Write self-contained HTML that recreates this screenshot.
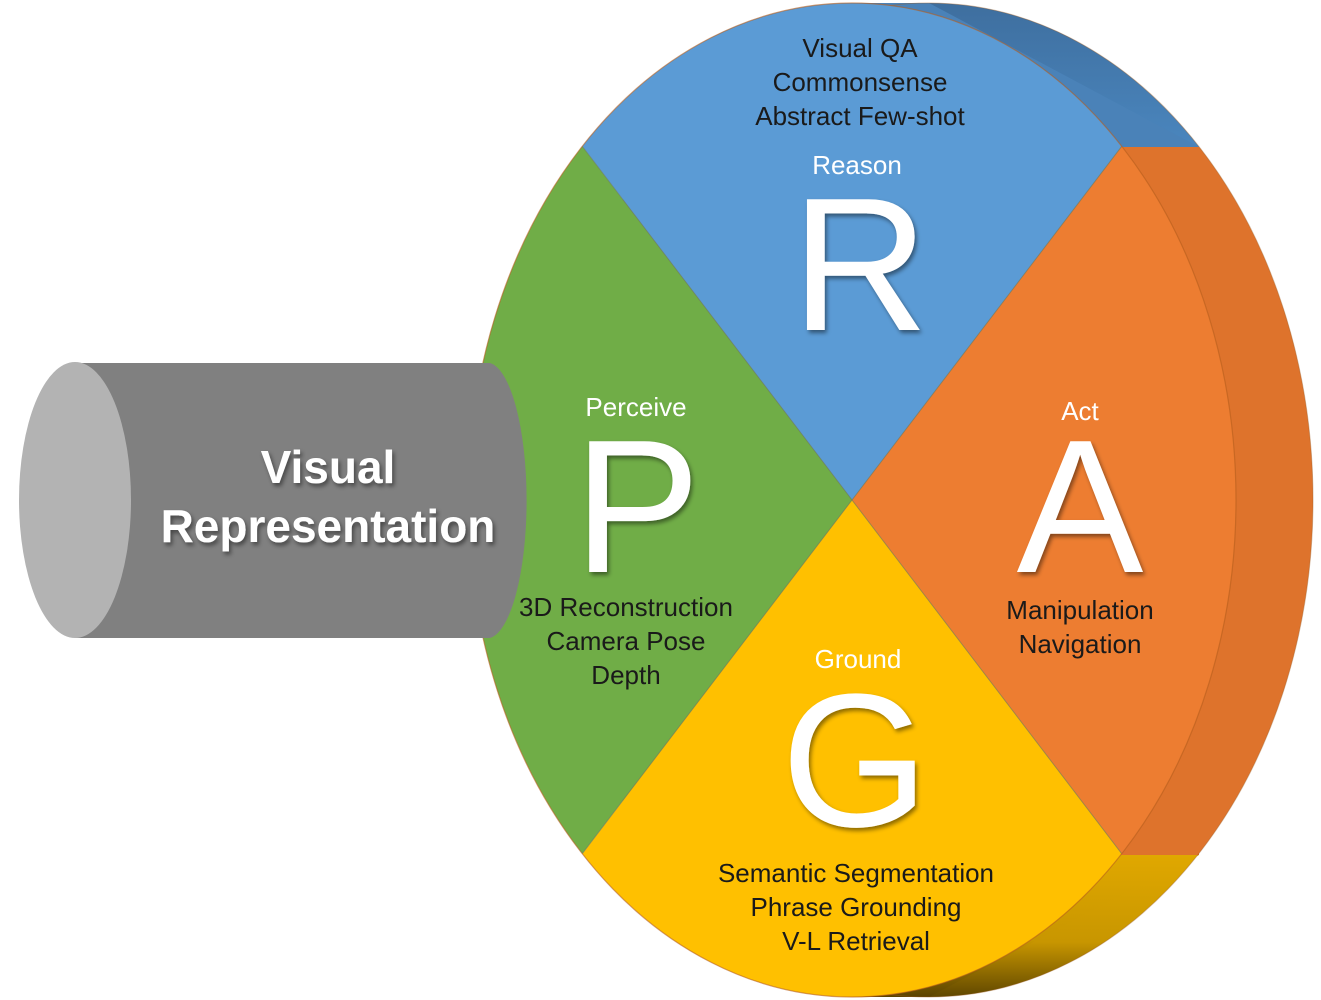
<!DOCTYPE html>
<html><head><meta charset="utf-8"><style>
html,body{margin:0;padding:0;background:#fff;width:1321px;height:1000px;overflow:hidden}
svg{display:block}
text{font-family:"Liberation Sans",sans-serif}
</style></head><body>
<svg width="1321" height="1000" viewBox="0 0 1321 1000" xmlns="http://www.w3.org/2000/svg">
<defs>
<clipPath id="front"><ellipse cx="852" cy="500" rx="384" ry="497"/></clipPath>
<clipPath id="back"><ellipse cx="929" cy="500" rx="384" ry="497"/></clipPath>
<linearGradient id="gold" x1="0" y1="0" x2="0" y2="1">
<stop offset="0" stop-color="#E0A800"/><stop offset="0.6" stop-color="#C89600"/><stop offset="1" stop-color="#5a4300"/></linearGradient>
<linearGradient id="bluS" x1="0" y1="0" x2="0" y2="1">
<stop offset="0" stop-color="#3E6E9E"/><stop offset="1" stop-color="#4A86BE"/></linearGradient>
<filter id="sh" x="-10%" y="-10%" width="130%" height="130%"><feDropShadow dx="2" dy="3" stdDeviation="2" flood-color="#000" flood-opacity="0.45"/></filter>
</defs>
<!-- side / back -->
<g clip-path="url(#back)">
<rect x="0" y="0" width="1321" height="147" fill="url(#bluS)"/>
<rect x="0" y="147" width="1321" height="708" fill="#DE732C"/>
<rect x="0" y="855" width="1321" height="145" fill="url(#gold)"/>
</g>
<rect x="852" y="0" width="77" height="1000" fill="none"/>
<polygon points="852,3 929,3 1199,147 1122,147" fill="#4A82B8"/>
<polygon points="1122,147 1199,147 1199,855 1122,855" fill="#DE732C"/>
<polygon points="1122,855 1199,855 929,997 852,997" fill="url(#gold)"/>
<ellipse cx="929" cy="500" rx="384" ry="497" fill="none" stroke="#9a5a20" stroke-width="1" opacity="0.4"/>
<!-- front wedges -->
<g clip-path="url(#front)">
<polygon points="852,500 444,-35 1260,-35" fill="#5B9BD5"/>
<polygon points="852,500 1260,-35 1260,1035" fill="#ED7D31"/>
<polygon points="852,500 1260,1035 444,1035" fill="#FFC000"/>
<polygon points="852,500 444,1035 444,-35" fill="#70AD47"/>
<line x1="444" y1="-35" x2="1260" y2="1035" stroke="#6b7a60" stroke-width="1" opacity="0.6"/>
<line x1="1260" y1="-35" x2="444" y2="1035" stroke="#6b7a60" stroke-width="1" opacity="0.6"/>
</g>
<ellipse cx="852" cy="500" rx="384" ry="497" fill="none" stroke="#b55d1d" stroke-width="1.2" opacity="0.6"/>
<!-- cylinder -->
<path d="M75,363 L490,363 A40,138 0 0 1 490,638 L75,638 Z" fill="#808080"/>
<ellipse cx="75" cy="500" rx="56" ry="138" fill="#B3B3B3"/>
<g fill="#fff" font-weight="bold" font-size="46" text-anchor="middle" filter="url(#sh)">
<text x="328" y="483">Visual</text>
<text x="328" y="542">Representation</text>
</g>
<!-- big letters -->
<g fill="#fff" font-size="190" text-anchor="middle" filter="url(#sh)">
<text x="860" y="330">R</text>
<text x="637" y="572">P</text>
<text x="1080" y="572">A</text>
<text x="855" y="826">G</text>
</g>
<g fill="#fff" font-size="26" text-anchor="middle">
<text x="857" y="174">Reason</text>
<text x="636" y="416">Perceive</text>
<text x="1080" y="420">Act</text>
<text x="858" y="668">Ground</text>
</g>
<g fill="#1a1a1a" font-size="26" text-anchor="middle">
<text x="860" y="57">Visual QA</text>
<text x="860" y="91">Commonsense</text>
<text x="860" y="125">Abstract Few-shot</text>
<text x="626" y="616">3D Reconstruction</text>
<text x="626" y="650">Camera Pose</text>
<text x="626" y="684">Depth</text>
<text x="1080" y="619">Manipulation</text>
<text x="1080" y="653">Navigation</text>
<text x="856" y="882">Semantic Segmentation</text>
<text x="856" y="916">Phrase Grounding</text>
<text x="856" y="950">V-L Retrieval</text>
</g>
</svg>
</body></html>
